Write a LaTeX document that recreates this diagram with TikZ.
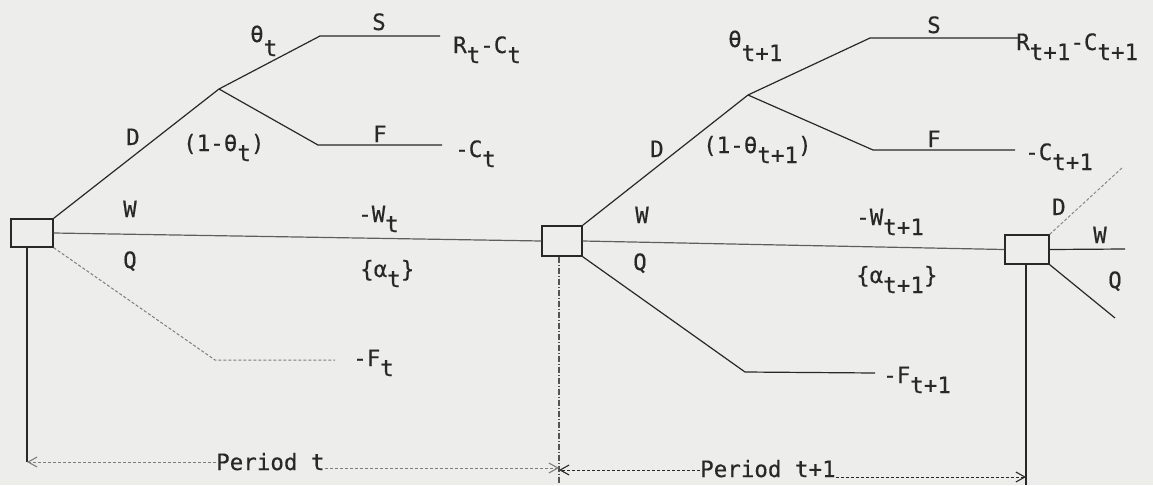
\documentclass[tikz,border=0pt]{standalone}
\usepackage{fontspec}
\setmainfont{DejaVu Sans Mono}
\newfontfamily\tw[FakeBold=0.35]{DejaVu Sans Mono}
\usetikzlibrary{arrows.meta}
\definecolor{paper}{RGB}{237,237,235}
\definecolor{ink}{RGB}{40,40,40}
\newcommand{\dn}[1]{\raisebox{-10pt}{#1}}
\newcommand{\thup}{\raisebox{14pt}{θ}}
\tikzset{
  ln/.style={draw=ink, line width=1.2pt},
  faintln/.style={draw=ink!60, line width=1pt, densely dashed},
  dotln/.style={draw=ink!55, line width=1pt, dash pattern=on 3pt off 2pt},
  dec/.style={draw=ink, line width=1.4pt, rectangle, inner sep=0pt},
  lbl/.style={font=\tw\fontsize{22.5}{22.5}\selectfont, text=ink, inner sep=0pt, anchor=base west},
  tip/.style={-{Straight Barb[length=9pt,width=10pt,line width=1.1pt]}}
}
\begin{document}
\begin{tikzpicture}[x=1pt,y=-1pt]
\fill[paper] (0,0) rectangle (1153,485);
\useasboundingbox (0,0) rectangle (1153,485);

% decision boxes
\node[dec, minimum width=42pt, minimum height=28pt] (b1) at (32,233) {};
\node[dec, minimum width=40pt, minimum height=30pt] (b2) at (562,241) {};
\node[dec, minimum width=44pt, minimum height=29pt] (b3) at (1027,249.5) {};

% coordinates, period t
\coordinate (c1) at (219,89);
\coordinate (s1) at (320,36);
\coordinate (s1e) at (440,36);
\coordinate (f1) at (318,145);
\coordinate (f1e) at (442,145);
\coordinate (q1) at (215,360);
\coordinate (q1e) at (335,360);
\coordinate (d1) at (27,462);
% period t+1
\coordinate (c2) at (748,95);
\coordinate (s2) at (870,38);
\coordinate (s2e) at (1018,38);
\coordinate (f2) at (873,150);
\coordinate (f2e) at (1015,150);
\coordinate (q2) at (745,372);
\coordinate (q2e) at (875,373);
\coordinate (d2) at (559,468);
\coordinate (d2b) at (559,484);
\coordinate (d3) at (559,470);
% box 3
\coordinate (e3d) at (1123,167);
\coordinate (e3w) at (1125,249);
\coordinate (e3q) at (1115,318);
\coordinate (d4) at (1026,477);
\coordinate (d4b) at (1026,485);

% branches period t
\draw[ln] (b1.north east) -- (c1);
\draw[ln] (c1) -- (s1) -- (s1e);
\draw[ln] (c1) -- (f1) -- (f1e);
\draw[ln, draw=ink!75] (b1.east) -- (b2.west);
\draw[faintln] (b1.south east) -- (q1) -- (q1e);
\draw[ln] (b1.south -| d1) -- (d1);

% branches period t+1
\draw[ln] (b2.north east) -- (c2);
\draw[ln] (c2) -- (s2) -- (s2e);
\draw[ln] (c2) -- (f2) -- (f2e);
\draw[ln, draw=ink!75] (b2.east) -- (b3.west);
\draw[ln] (b2.south east) -- (q2) -- (q2e);
\draw[ln, draw=ink!80, dash pattern=on 6pt off 2pt on 1pt off 2pt] (b2.south -| d2) -- (d2b);

% box 3 branches
\draw[dotln] (b3.north east) -- (e3d);
\draw[ln] (b3.east) -- (e3w);
\draw[ln] (b3.south east) -- (e3q);
\draw[ln] (b3.south -| d4) -- (d4b);

% labels period t
\node[lbl] (th1) at (250,56) {\thup t};
\node[lbl] (S1) at (372,30) {S};
\node[lbl] (R1) at (453,53) {R\dn{t}-C\dn{t}};
\node[lbl] (D1) at (126,145) {D};
\node[lbl] (nth1) at (183,151) {(1-θ\dn{t})};
\node[lbl] (F1) at (373,142) {F};
\node[lbl] (C1) at (455,157) {-C\dn{t}};
\node[lbl] (W1) at (123,217) {W};
\node[lbl] (mW1) at (358,222) {-W\dn{t}};
\node[lbl] (Q1) at (123,268) {Q};
\node[lbl] (al1) at (360,277) {\{α\dn{t}\}};
\node[lbl] (mF1) at (353,366) {-F\dn{t}};
\node[lbl] (pt) at (216,470) {Period t};

% labels period t+1
\node[lbl] (th2) at (728,61) {\thup t+1};
\node[lbl] (S2) at (927,33) {S};
\node[lbl] (R2) at (1016,50) {R\dn{t+1}-C\dn{t+1}};
\node[lbl] (D2) at (650,157) {D};
\node[lbl] (nth2) at (703,153) {(1-θ\dn{t+1})};
\node[lbl] (F2) at (927,147) {F};
\node[lbl] (C2) at (1025,160) {-C\dn{t+1}};
\node[lbl] (W2) at (635,223) {W};
\node[lbl] (mW2) at (856,225) {-W\dn{t+1}};
\node[lbl] (Q2) at (633,270) {Q};
\node[lbl] (al2) at (856,283) {\{α\dn{t+1}\}};
\node[lbl] (mF2) at (883,383) {-F\dn{t+1}};
\node[lbl] (ptt) at (700,477) {Period t+1};

% labels box 3
\node[lbl] (D3) at (1052,215) {D};
\node[lbl] (W3) at (1093,243) {W};
\node[lbl] (Q3) at (1108,288) {Q};

% period dimension lines
\draw[faintln, tip] (pt.west |- d1) -- (d1);
\draw[faintln, tip] (pt.east |- d2) -- (d2);
\draw[ln, densely dashed, line width=1pt, tip] (ptt.west |- d3) -- (d3);
\draw[ln, densely dashed, line width=1pt, tip] (ptt.east |- d4) -- (d4);
\end{tikzpicture}
\end{document}
